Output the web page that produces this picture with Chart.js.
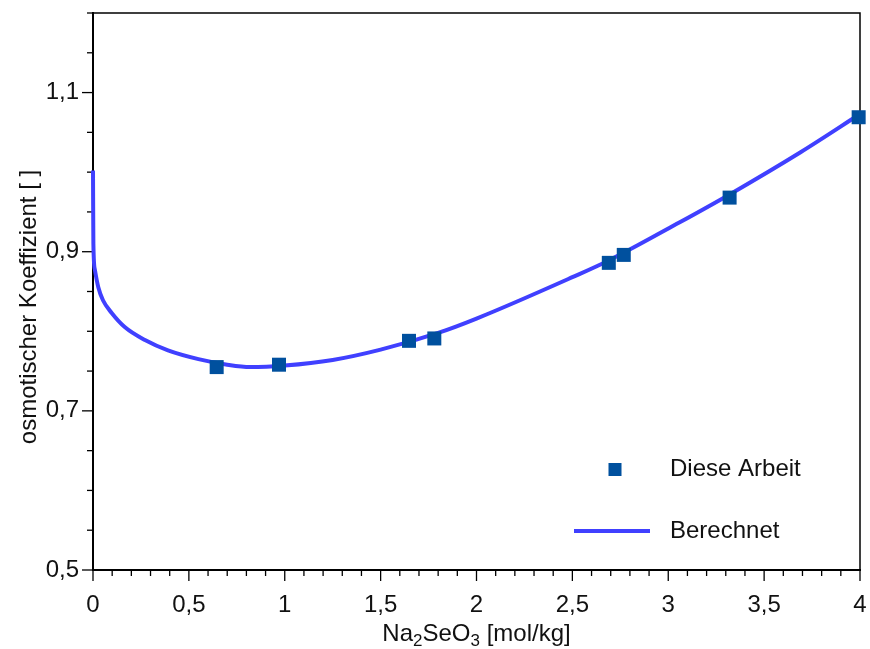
<!DOCTYPE html>
<html>
<head>
<meta charset="utf-8">
<script src="https://cdn.jsdelivr.net/npm/chart.js@4.4.0/dist/chart.umd.min.js"></script>
<style>
  html, body { margin: 0; padding: 0; background: #fff; }
  #wrap { width: 870px; height: 649px; }
</style>
</head>
<body>
<div id="wrap"><canvas id="chart" width="870" height="649"></canvas></div>
<script>
// measured points (Diese Arbeit)
const measuredX = [0.645, 0.97, 1.648, 1.78, 2.69, 2.768, 3.32, 3.993];
const measuredY = [0.755, 0.758, 0.788, 0.791, 0.886, 0.896, 0.968, 1.069];

// calculated curve (Berechnet)
const calcX = [0, 0.0005, 0.002, 0.01, 0.028, 0.052, 0.0975, 0.167, 0.271, 0.391, 0.55, 0.7, 0.82, 1.0, 1.25, 1.5, 1.8, 2.0, 2.5, 2.69, 3.06, 3.32, 3.69, 4.0];
const calcY = [1.002, 0.973, 0.91, 0.877, 0.855, 0.839, 0.823, 0.805, 0.789, 0.776, 0.765, 0.758, 0.755, 0.757, 0.764, 0.777, 0.798, 0.816, 0.868, 0.889, 0.937, 0.972, 1.025, 1.073];

const xMajor = [0, 0.5, 1, 1.5, 2, 2.5, 3, 3.5, 4];
const xTickLabels = ['0', '0,5', '1', '1,5', '2', '2,5', '3', '3,5', '4'];
const yMajor = [0.5, 0.7, 0.9, 1.1];
const yTickLabels = ['0,5', '0,7', '0,9', '1,1'];

const FONT = '"Liberation Sans", Arial, sans-serif';
const TEXT = '#111';

function labelFor(v, majors, labels) {
    const i = majors.findIndex(m => Math.abs(m - v) < 1e-6);
    return i >= 0 ? labels[i] : '';
}

// tick marks (long for labelled ticks, short otherwise), frame, titles and legend
const decor = {
    id: 'decor',
    beforeDatasetsDraw(chart) {
        const { ctx, chartArea: a } = chart;
        ctx.save();
        ctx.strokeStyle = '#000';
        ctx.lineWidth = 1.5;
        ctx.beginPath();
        ctx.moveTo(a.left, a.top);
        ctx.lineTo(a.right, a.top);
        ctx.lineTo(a.right, a.bottom);
        ctx.stroke();

        ctx.lineWidth = 1.3;
        const xs = chart.scales.x;
        xs.ticks.forEach(t => {
            const px = xs.getPixelForValue(t.value);
            const len = labelFor(t.value, xMajor, xTickLabels) ? 11 : 6;
            ctx.beginPath();
            ctx.moveTo(px, a.bottom);
            ctx.lineTo(px, a.bottom + len);
            ctx.stroke();
        });
        const ys = chart.scales.y;
        ys.ticks.forEach(t => {
            const py = ys.getPixelForValue(t.value);
            const len = labelFor(t.value, yMajor, yTickLabels) ? 11 : 6;
            ctx.beginPath();
            ctx.moveTo(a.left, py);
            ctx.lineTo(a.left - len, py);
            ctx.stroke();
        });
        ctx.restore();
    },
    afterDraw(chart) {
        const { ctx, chartArea: a } = chart;
        ctx.save();
        ctx.fillStyle = TEXT;

        // y title
        ctx.font = '24px ' + FONT;
        ctx.textAlign = 'center';
        ctx.textBaseline = 'middle';
        ctx.translate(29, 307);
        ctx.rotate(-Math.PI / 2);
        ctx.fillText('osmotischer Koeffizient [ ]', 0, 0);
        ctx.setTransform(1, 0, 0, 1, 0, 0);

        // x title with subscripts
        const parts = [['Na', false], ['2', true], ['SeO', false], ['3', true], [' [mol/kg]', false]];
        let w = 0;
        parts.forEach(p => {
            ctx.font = (p[1] ? '17px ' : '24px ') + FONT;
            w += ctx.measureText(p[0]).width;
        });
        let x = (a.left + a.right) / 2 - w / 2;
        const base = 641;
        ctx.textAlign = 'left';
        ctx.textBaseline = 'alphabetic';
        parts.forEach(p => {
            ctx.font = (p[1] ? '17px ' : '24px ') + FONT;
            ctx.fillText(p[0], x, p[1] ? base + 5 : base);
            x += ctx.measureText(p[0]).width;
        });

        // legend
        const ds = chart.data.datasets;
        ctx.font = '24px ' + FONT;
        ctx.textBaseline = 'middle';
        ctx.fillStyle = ds[0].backgroundColor;
        ctx.fillRect(608.5, 463, 13, 13);
        ctx.fillStyle = TEXT;
        ctx.fillText(ds[0].label, 670, 469);

        ctx.strokeStyle = ds[1].borderColor;
        ctx.lineWidth = ds[1].borderWidth;
        ctx.beginPath();
        ctx.moveTo(574, 531);
        ctx.lineTo(650, 531);
        ctx.stroke();
        ctx.fillText(ds[1].label, 670, 531);
        ctx.restore();
    }
};

new Chart(document.getElementById('chart'), {
    type: 'scatter',
    data: {
        datasets: [
            {
                label: 'Diese Arbeit',
                data: measuredX.map((x, i) => ({ x: x, y: measuredY[i] })),
                pointStyle: 'rect',
                pointRadius: 9.9,
                pointHoverRadius: 9.9,
                backgroundColor: '#00509E',
                borderWidth: 0,
                clip: false
            },
            {
                label: 'Berechnet',
                data: calcX.map((x, i) => ({ x: x, y: calcY[i] })),
                showLine: true,
                pointRadius: 0,
                borderColor: '#4040FF',
                borderWidth: 4,
                cubicInterpolationMode: 'monotone',
                clip: false
            }
        ]
    },
    options: {
        responsive: false,
        animation: false,
        devicePixelRatio: 1,
        layout: { padding: { top: 13, right: 10, left: 0, bottom: 0 } },
        plugins: {
            legend: { display: false },
            tooltip: { enabled: false }
        },
        scales: {
            x: {
                type: 'linear',
                min: 0,
                max: 4,
                grid: { display: false, drawTicks: false },
                border: { display: true, color: '#000', width: 2 },
                ticks: {
                    stepSize: 0.1,
                    autoSkip: false,
                    maxRotation: 0,
                    padding: 21,
                    color: TEXT,
                    font: { family: FONT, size: 24 },
                    callback: v => labelFor(v, xMajor, xTickLabels)
                },
                afterFit: s => {
                    s.height = 79;
                    s.paddingLeft = 0;
                    s.paddingRight = 0;
                }
            },
            y: {
                type: 'linear',
                min: 0.5,
                max: 1.2,
                grid: { display: false, drawTicks: false },
                border: { display: true, color: '#000', width: 2 },
                ticks: {
                    stepSize: 0.05,
                    autoSkip: false,
                    padding: 14,
                    color: TEXT,
                    font: { family: FONT, size: 24 },
                    callback: v => labelFor(v, yMajor, yTickLabels)
                },
                afterFit: s => {
                    s.width = 93;
                    s.paddingTop = 0;
                    s.paddingBottom = 0;
                }
            }
        }
    },
    plugins: [decor]
});
</script>
</body>
</html>
